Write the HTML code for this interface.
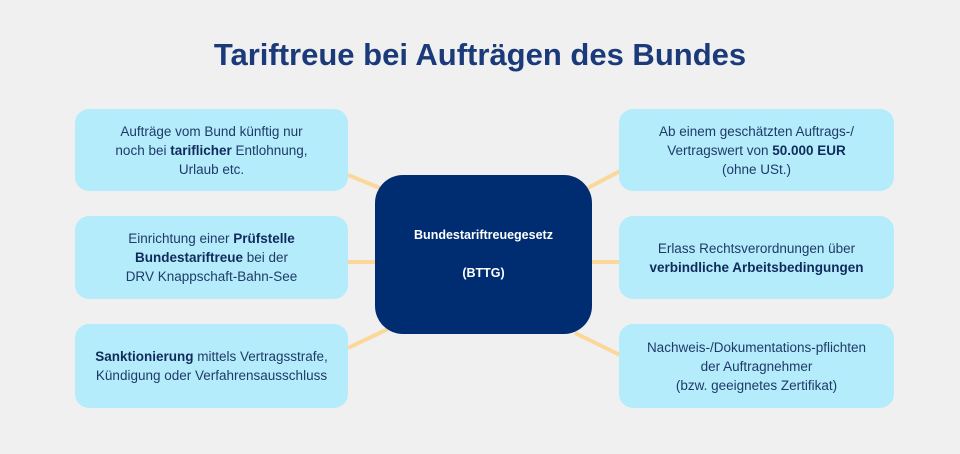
<!DOCTYPE html>
<html><head><meta charset="utf-8"><style>
body{margin:0;width:960px;height:454px;background:#f0f0f0;position:relative;overflow:hidden;font-family:"Liberation Sans",sans-serif;}
.t{position:absolute;left:0;width:960px;top:37px;text-align:center;font-size:31px;font-weight:bold;color:#1b3a7a;}
.b{position:absolute;background:#b4ecfb;border-radius:14px;display:flex;align-items:center;justify-content:center;text-align:center;font-size:13.5px;line-height:19px;color:#1f3a68;}
.b span{display:block}
.b b{color:#112a5c}
.c{position:absolute;left:375px;top:175px;width:217px;height:159px;background:#002d72;border-radius:28px;color:#fff;font-weight:bold;font-size:12.5px;display:flex;flex-direction:column;align-items:center;justify-content:center;line-height:19px;}
svg{position:absolute;left:0;top:0}
</style></head><body>
<div class="t">Tariftreue bei Aufträgen des Bundes</div>
<svg width="960" height="454"><g stroke="#fbd79a" stroke-width="4">
<line x1="348" y1="175" x2="380" y2="188"/><line x1="348" y1="262" x2="378" y2="262"/><line x1="348" y1="348" x2="388" y2="329"/>
<line x1="588" y1="188" x2="620" y2="171"/><line x1="590" y1="262" x2="620" y2="262"/><line x1="575" y1="333" x2="620" y2="355"/>
</g></svg>
<div class="b" style="left:75px;top:109px;width:273px;height:82px"><span>Aufträge vom Bund künftig nur<br>noch bei <b>tariflicher</b> Entlohnung,<br>Urlaub etc.</span></div>
<div class="b" style="left:75px;top:216px;width:273px;height:83px"><span>Einrichtung einer <b>Prüfstelle</b><br><b>Bundestariftreue</b> bei der<br>DRV Knappschaft-Bahn-See</span></div>
<div class="b" style="left:75px;top:324px;width:273px;height:84px"><span><b>Sanktionierung</b> mittels Vertragsstrafe,<br>Kündigung oder Verfahrensausschluss</span></div>
<div class="b" style="left:619px;top:109px;width:275px;height:82px"><span>Ab einem geschätzten Auftrags-/<br>Vertragswert von <b>50.000 EUR</b><br>(ohne USt.)</span></div>
<div class="b" style="left:619px;top:216px;width:275px;height:83px"><span>Erlass Rechtsverordnungen über<br><b>verbindliche Arbeitsbedingungen</b></span></div>
<div class="b" style="left:619px;top:324px;width:275px;height:84px"><span>Nachweis-/Dokumentations-pflichten<br>der Auftragnehmer<br>(bzw. geeignetes Zertifikat)</span></div>
<div class="c"><div>Bundestariftreuegesetz</div><div>&nbsp;</div><div>(BTTG)</div></div>
</body></html>
